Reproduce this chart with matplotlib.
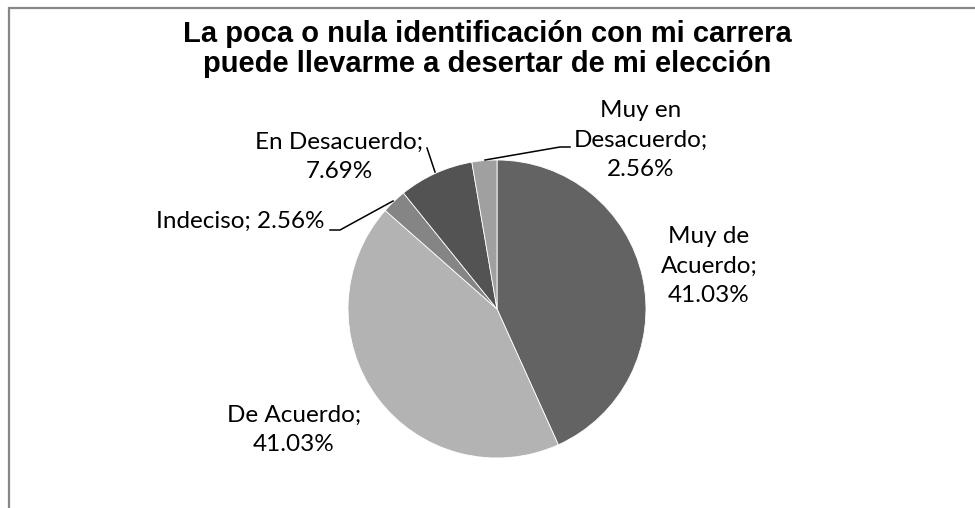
import matplotlib
matplotlib.use('Agg')
import matplotlib.pyplot as plt
from matplotlib.patches import Rectangle

# Data
labels = ['Muy de Acuerdo', 'De Acuerdo', 'Indeciso', 'En Desacuerdo', 'Muy en Desacuerdo']
percents = [41.03, 41.03, 2.56, 7.69, 2.56]
label_texts = ['Muy de\nAcuerdo;\n41.03%', 'De Acuerdo;\n41.03%', 'Indeciso; 2.56%',
               'En Desacuerdo;\n7.69%', 'Muy en\nDesacuerdo;\n2.56%']
colors = ['#636363', '#b3b3b3', '#858585', '#535353', '#a0a0a0']

title = 'La poca o nula identificación con mi carrera\npuede llevarme a desertar de mi elección'

W, H = 975, 508
fig = plt.figure(figsize=(W / 100, H / 100), dpi=100)
ax = fig.add_axes([0, 0, 1, 1])

# pie in pixel coordinates (y up)
cx, cy, r = 497, H - 309, 149
ax.pie(percents, colors=colors, startangle=90, counterclock=False,
       center=(cx, cy), radius=r,
       wedgeprops=dict(edgecolor='white', linewidth=0.6))
ax.set_xlim(0, W)
ax.set_ylim(0, H)
ax.set_aspect('auto')
ax.axis('off')

# chart area border
ax.add_patch(Rectangle((8.5, -20), W + 40, H - 7.5 + 20, fill=False,
                       edgecolor='#878787', linewidth=1.6, clip_on=False))

# title
ax.text(487, H - 49, title, ha='center', va='center', fontsize=21,
        fontweight='bold', family='Liberation Sans', linespacing=1.07)

# data labels (pixel positions, y from top)
label_pos = [(709, 266), (294, 430), (240, 221), (339, 157), (641, 140)]
for txt, (x, y) in zip(label_texts, label_pos):
    ax.text(x, H - y, txt, ha='center', va='center', fontsize=17.5,
            family='Lato', linespacing=1.5, multialignment='center')

# leader lines
leaders = [
    [(330, 230), (340, 230), (393, 201)],
    [(427, 148), (435, 172)],
    [(485, 160), (560, 147), (570, 147)],
]
for pts in leaders:
    xs = [p[0] for p in pts]
    ys = [H - p[1] for p in pts]
    ax.plot(xs, ys, color='black', linewidth=1.1)

fig.savefig('out.png', dpi=100)
